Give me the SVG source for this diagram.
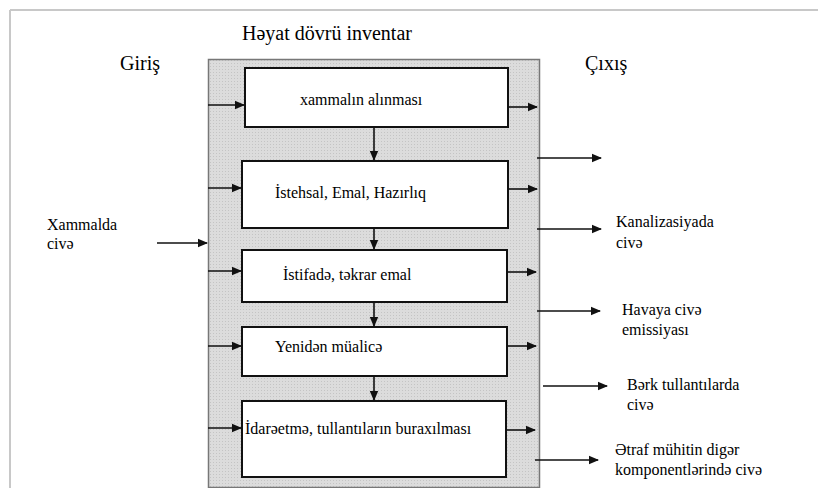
<svg xmlns="http://www.w3.org/2000/svg" width="818" height="488" viewBox="0 0 818 488">
<style>
  .box { fill: #ffffff; stroke: #111; stroke-width: 2; }
  .c { stroke: #111; stroke-width: 1.6; fill: none; marker-end: url(#ah); }
</style>
<defs>
  <marker id="ah" markerWidth="10" markerHeight="10" refX="9" refY="5" orient="auto" markerUnits="userSpaceOnUse">
    <path d="M0,0.8 L10,5 L0,9.2 Z" fill="#111"/>
  </marker>
  <pattern id="dots" width="3" height="3" patternUnits="userSpaceOnUse">
    <rect width="3" height="3" fill="#dcdcdc"/>
    <rect width="1" height="1" fill="#c4c4c4"/>
  </pattern>
</defs>
<rect x="0" y="0" width="818" height="488" fill="#ffffff"/>
<g id="frame">
  <line x1="10" y1="10" x2="818" y2="10" stroke="#c8c8c8" stroke-width="2"/>
  <line x1="10" y1="10" x2="10" y2="488" stroke="#c8c8c8" stroke-width="2"/>
</g>
<g id="titles">
<text font-size="20" font-family="Liberation Serif" x="242" y="40">Həyat dövrü inventar</text>
<text font-size="20" font-family="Liberation Serif" x="120" y="70">Giriş</text>
<text font-size="20" font-family="Liberation Serif" x="585" y="70">Çıxış</text>
</g>
<g id="inventory">
  <rect x="208.5" y="59.5" width="331" height="428" fill="url(#dots)" stroke="#777" stroke-width="1.5"/>
</g>
<g id="n1"><rect class="box" x="245" y="68" width="263" height="59"/><text font-size="16" font-family="Liberation Serif" x="300" y="105">xammalın alınması</text></g>
<g id="n2"><rect class="box" x="242" y="161" width="266" height="67"/><text font-size="16" font-family="Liberation Serif" x="275" y="198">İstehsal, Emal, Hazırlıq</text></g>
<g id="n3"><rect class="box" x="242" y="250" width="265" height="52"/><text font-size="16" font-family="Liberation Serif" x="283" y="280">İstifadə, təkrar emal</text></g>
<g id="n4"><rect class="box" x="242" y="327" width="265" height="49"/><text font-size="16" font-family="Liberation Serif" x="275" y="352">Yenidən müalicə</text></g>
<g id="n5"><rect class="box" x="242" y="401" width="264" height="76"/><text font-size="16" font-family="Liberation Serif" x="245" y="434">İdarəetmə, tullantıların buraxılması</text></g>
<g id="in-label"><text font-size="16" font-family="Liberation Serif" x="47" y="230">Xammalda</text><text font-size="16" font-family="Liberation Serif" x="47" y="249">civə</text></g>
<g id="out1"><text font-size="16" font-family="Liberation Serif" x="616" y="227">Kanalizasiyada</text><text font-size="16" font-family="Liberation Serif" x="616" y="248">civə</text></g>
<g id="out2"><text font-size="16" font-family="Liberation Serif" x="622" y="315">Havaya civə</text><text font-size="16" font-family="Liberation Serif" x="622" y="335">emissiyası</text></g>
<g id="out3"><text font-size="16" font-family="Liberation Serif" x="627" y="390">Bərk tullantılarda</text><text font-size="16" font-family="Liberation Serif" x="627" y="410">civə</text></g>
<g id="out4"><text font-size="16" font-family="Liberation Serif" x="615" y="455">Ətraf mühitin digər</text><text font-size="16" font-family="Liberation Serif" x="615" y="475">komponentlərində civə</text></g>
<g id="connectors">
  <line class="c" x1="374" y1="127" x2="374" y2="160"/>
  <line class="c" x1="374" y1="228" x2="374" y2="249"/>
  <line class="c" x1="374" y1="302" x2="374" y2="326"/>
  <line class="c" x1="374" y1="376" x2="374" y2="400"/>
  <line class="c" x1="208" y1="105" x2="244" y2="105"/>
  <line class="c" x1="208" y1="188" x2="241" y2="188"/>
  <line class="c" x1="208" y1="271" x2="241" y2="271"/>
  <line class="c" x1="208" y1="346" x2="241" y2="346"/>
  <line class="c" x1="208" y1="428" x2="241" y2="428"/>
  <line class="c" x1="157" y1="243" x2="207" y2="243"/>
  <line class="c" x1="508" y1="107" x2="537" y2="107"/>
  <line class="c" x1="508" y1="189" x2="537" y2="189"/>
  <line class="c" x1="507" y1="272" x2="536" y2="272"/>
  <line class="c" x1="507" y1="346" x2="536" y2="346"/>
  <line class="c" x1="506" y1="430" x2="535" y2="430"/>
  <line class="c" x1="537" y1="158" x2="601" y2="158"/>
  <line class="c" x1="537" y1="229" x2="601" y2="229"/>
  <line class="c" x1="537" y1="311" x2="600" y2="311"/>
  <line class="c" x1="543" y1="386" x2="607" y2="386"/>
  <line class="c" x1="535" y1="460" x2="598" y2="460"/>
</g>
</svg>
